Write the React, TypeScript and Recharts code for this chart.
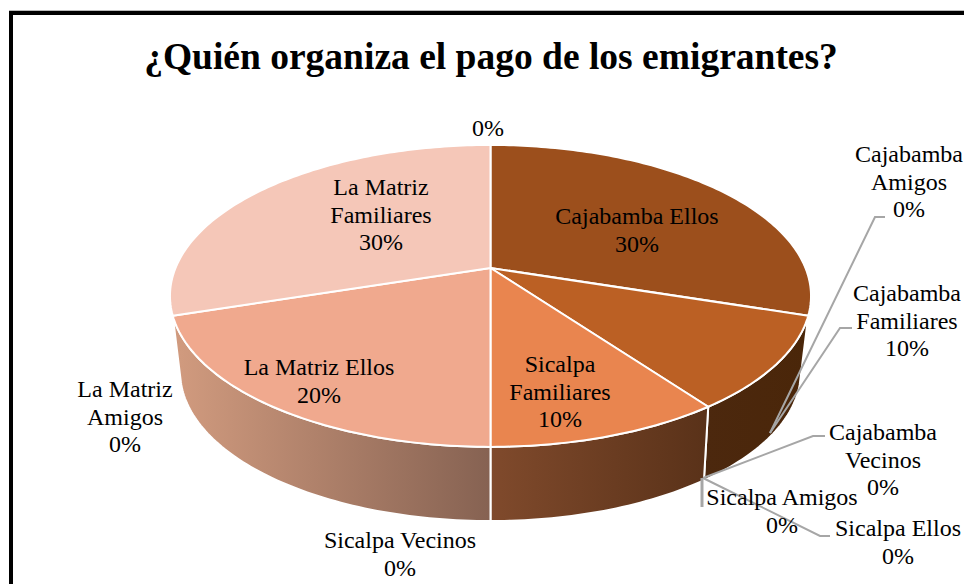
import { PieChart, Pie } from 'recharts';

const CATEGORIES = [
    'Cajabamba Ellos', 'Cajabamba Familiares', 'Cajabamba Amigos', 'Cajabamba Vecinos',
    'Sicalpa Ellos', 'Sicalpa Amigos', 'Sicalpa Familiares', 'Sicalpa Vecinos',
    'La Matriz Ellos', 'La Matriz Amigos', 'La Matriz Familiares', '',
];
const VALUES = [30, 10, 0, 0, 0, 0, 10, 0, 20, 0, 30, 0];
const TOP_COLORS = [
    '#9c4f1c', '#bb6024', '#bb6024', '#bb6024', '#e9854f', '#e9854f',
    '#e9854f', '#e9854f', '#f0a98e', '#f0a98e', '#f5c7b8', '#f5c7b8',
];
const WALL_FILLS = [
    'none', 'url(#wallDark)', 'none', 'none', 'none', 'none',
    'url(#wallMid)', 'none', 'url(#wallLight)', 'none', 'none', 'none',
];

const tableData = CATEGORIES.map((name, i) => ({
    name,
    value: VALUES[i],
    fill: TOP_COLORS[i],
    wall: WALL_FILLS[i],
}));

// label placement: centre x, first baseline, whether the name wraps, leader line
const LABEL_LAYOUT = [
    { x: 637, y: 224, wrap: false },
    { x: 907, y: 301, wrap: true, leader: '852,328 840,328 770,433' },
    { x: 909, y: 162, wrap: true, leader: '885,217 875,217 770,433' },
    { x: 883, y: 440, wrap: true, leader: '825,436 813,436 703,478' },
    { x: 898, y: 536, wrap: false, leader: '830,536 820,536 703,478' },
    { x: 782, y: 505, wrap: false, leader: '702,478 702,507', thick: true },
    { x: 560, y: 372, wrap: true },
    { x: 400, y: 548, wrap: false },
    { x: 319, y: 375, wrap: false },
    { x: 125, y: 397, wrap: true },
    { x: 381, y: 195, wrap: true },
    { x: 488, y: 136, wrap: false },
];

// the perspective of the 3D pie: a circle seen from above and in front
const CENTER_X = 490.5;
const TOP_RIM = { y: 268, a: 315, k: 145.8, p: 0.185 };
const BOTTOM_RIM = { y: 338, a: 302, k: 141, p: 0.23 };
const WALL_FROM = 108;
const WALL_TO = 252;

const project = (theta: number, rim: typeof TOP_RIM) => {
    const rad = (theta * Math.PI) / 180;
    const u = Math.sin(rad);
    const v = -Math.cos(rad);
    const d = 1 - rim.p * v;
    return [CENTER_X + (rim.a * u) / d, rim.y + (rim.k * v) / d];
};

const arcPoints = (from: number, to: number, rim: typeof TOP_RIM) => {
    const steps = Math.max(2, Math.ceil(Math.abs(to - from)));
    const pts = [];
    for (let i = 0; i <= steps; i++) {
        pts.push(project(from + ((to - from) * i) / steps, rim));
    }
    return pts;
};

const toPath = (pts: number[][]) =>
    'M' + pts.map((p) => `${p[0].toFixed(2)},${p[1].toFixed(2)}`).join('L') + 'Z';

function Sector3D(props: any) {
    const { startAngle, endAngle, fill, wall } = props;
    if (startAngle === endAngle) return null;
    const from = 90 - startAngle;
    const to = 90 - endAngle;
    const wallFrom = Math.max(from, WALL_FROM);
    const wallTo = Math.min(to, WALL_TO);
    const top = [[CENTER_X, TOP_RIM.y], ...arcPoints(from, to, TOP_RIM)];
    return (
        <g>
            {wallTo > wallFrom && wall !== 'none' && (
                <path
                    d={toPath([
                        ...arcPoints(wallFrom, wallTo, TOP_RIM),
                        ...arcPoints(wallTo + (wallTo % 180 ? 1 : 0), wallFrom + (wallFrom % 180 && wallFrom !== WALL_FROM ? 1 : 0), BOTTOM_RIM),
                    ])}
                    fill={wall}
                    stroke="#fff"
                    strokeWidth={2}
                    strokeLinejoin="round"
                />
            )}
            <path d={toPath(top)} fill={fill} stroke="#fff" strokeWidth={2} strokeLinejoin="round" />
        </g>
    );
}

function renderLabel(props: any) {
    const { index, name, percent } = props;
    const spot = LABEL_LAYOUT[index];
    let lines = name ? [name] : [];
    if (spot.wrap) {
        const cut = name.lastIndexOf(' ');
        lines = [name.slice(0, cut), name.slice(cut + 1)];
    }
    lines = [...lines, `${Math.round(percent * 100)}%`];
    return (
        <g key={index}>
            {spot.leader && (
                <polyline
                    points={spot.leader}
                    fill="none"
                    stroke="#a6a6a6"
                    strokeWidth={spot.thick ? 3 : 2}
                />
            )}
            <text
                textAnchor="middle"
                fontFamily="'Liberation Serif'"
                fontSize={24}
                fill="#000"
                stroke="none"
            >
                {lines.map((line, i) => (
                    <tspan key={i} x={spot.x} y={spot.y + i * 27.5}>
                        {line}
                    </tspan>
                ))}
            </text>
        </g>
    );
}

export default function App() {
    return (
        <div style={{ position: 'absolute', left: 0, top: 0, width: 964, height: 584, overflow: 'hidden', background: '#fff' }}>
            <div
                style={{
                    position: 'absolute',
                    left: 9,
                    top: 11,
                    right: -10,
                    bottom: -10,
                    borderTop: '4px solid #000',
                    borderLeft: '4px solid #000',
                    boxShadow: '0 -1px 0 #bbb',
                }}
            />
            <div
                style={{
                    position: 'absolute',
                    left: 0,
                    top: 32,
                    width: 982,
                    textAlign: 'center',
                    fontFamily: "'Liberation Serif'",
                    fontWeight: 'bold',
                    fontSize: 37.5,
                    lineHeight: '50px',
                    color: '#000',
                }}
            >
                ¿Quién organiza el pago de los emigrantes?
            </div>
            <div style={{ position: 'absolute', left: 0, top: 0 }}>
                <PieChart width={964} height={584} margin={{ top: 0, right: 0, bottom: 0, left: 0 }}>
                    <defs>
                        <linearGradient id="wallLight" gradientUnits="userSpaceOnUse" x1={180} y1={0} x2={490} y2={0}>
                            <stop offset="0%" stopColor="#d09a7e" />
                            <stop offset="100%" stopColor="#866252" />
                        </linearGradient>
                        <linearGradient id="wallMid" gradientUnits="userSpaceOnUse" x1={490} y1={0} x2={705} y2={0}>
                            <stop offset="0%" stopColor="#804a2c" />
                            <stop offset="100%" stopColor="#5a3219" />
                        </linearGradient>
                        <linearGradient id="wallDark" gradientUnits="userSpaceOnUse" x1={705} y1={0} x2={810} y2={0}>
                            <stop offset="0%" stopColor="#4c280e" />
                            <stop offset="100%" stopColor="#4a2609" />
                        </linearGradient>
                    </defs>
                    <Pie
                        data={tableData}
                        dataKey="value"
                        nameKey="name"
                        cx={CENTER_X}
                        cy={TOP_RIM.y}
                        outerRadius={150}
                        startAngle={90}
                        endAngle={-270}
                        shape={Sector3D}
                        inactiveShape={Sector3D}
                        label={renderLabel}
                        labelLine={false}
                        isAnimationActive={false}
                    />
                </PieChart>
            </div>
        </div>
    );
}
